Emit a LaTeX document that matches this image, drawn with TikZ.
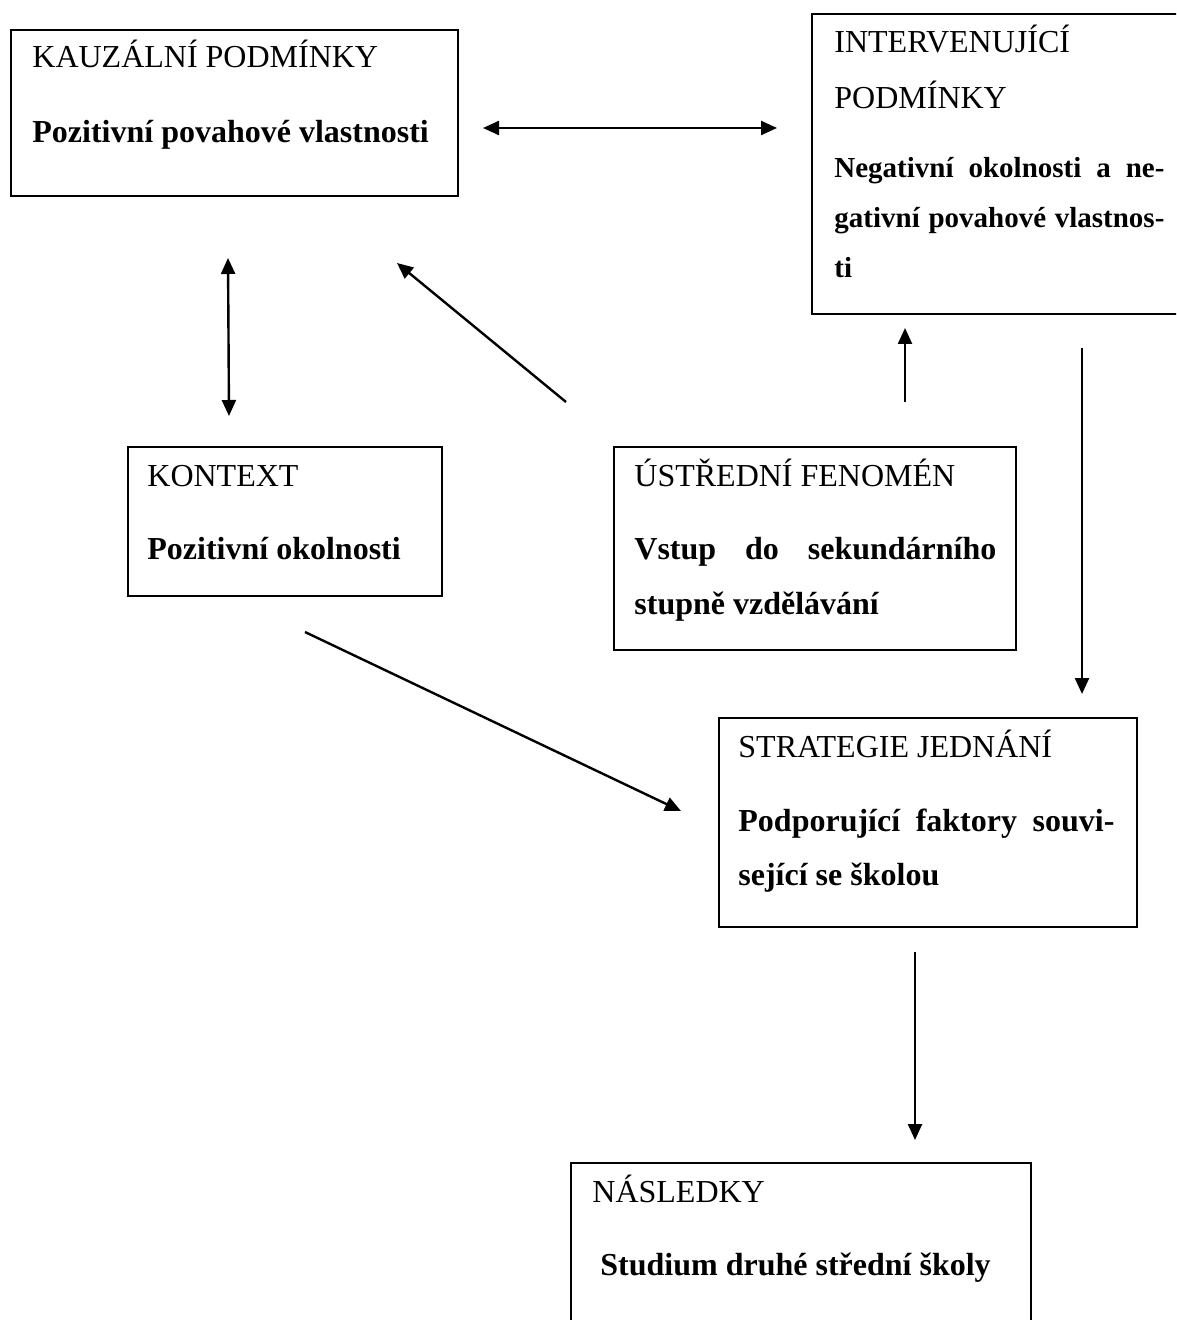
\documentclass[tikz,border=0pt]{standalone}
\usepackage{fontspec}
\setmainfont{Liberation Serif}
\usetikzlibrary{arrows.meta}
\tikzset{
  box/.style={draw, line width=1.2pt, anchor=north west, inner sep=0pt},
  lbl/.style={anchor=base west, inner sep=0pt, font=\fontsize{16}{19}\selectfont},
  blbl/.style={anchor=base west, inner sep=0pt, font=\fontsize{16}{19}\selectfont\bfseries},
  sblbl/.style={anchor=base west, inner sep=0pt, font=\fontsize{14.5}{17}\selectfont\bfseries},
  arr/.style={line width=1.2pt, -{Triangle[length=8pt,width=7pt]}},
  darr/.style={line width=1.2pt, {Triangle[length=8pt,width=7pt]}-{Triangle[length=8pt,width=7pt]}}
}
\begin{document}
\begin{tikzpicture}[x=0.5pt,y=-0.5pt]
\useasboundingbox (0,0) rectangle (1176,1320);
\clip (0,0) rectangle (1176,1320);
% boxes
\node[box, minimum width=223.5pt, minimum height=83pt] (kauz) at (10,29) {};
\node[box, minimum width=189.5pt, minimum height=150pt] (interv) at (811,13) {};
\node[box, minimum width=157pt, minimum height=74.5pt] (kontext) at (127,446) {};
\node[box, minimum width=201pt, minimum height=101.5pt] (fenomen) at (613,446) {};
\node[box, minimum width=209pt, minimum height=104.5pt] (strat) at (718,717) {};
\node[box, minimum width=230pt, minimum height=89pt] (nasl) at (570,1162) {};
% texts
\node[lbl] (t1a) at (32,68) {KAUZÁLNÍ PODMÍNKY};
\node[blbl] (t1b) at (32,143) {Pozitivní povahové vlastnosti};
\node[lbl] (t2a) at (834,53) {INTERVENUJÍCÍ};
\node[lbl] (t2b) at (834,109) {PODMÍNKY};
\node[sblbl] (t2c) at (834,178) {\makebox[165pt][s]{Negativní okolnosti a ne-}};
\node[sblbl] (t2d) at (834,228) {\makebox[165pt][s]{gativní povahové vlastnos-}};
\node[sblbl] (t2e) at (834,278) {ti};
\node[lbl] (t3a) at (147,486) {KONTEXT};
\node[blbl] (t3b) at (147,559) {Pozitivní okolnosti};
\node[lbl] (t4a) at (634,486) {ÚSTŘEDNÍ FENOMÉN};
\node[blbl] (t4b) at (634,559) {\makebox[181pt][s]{Vstup do sekundárního}};
\node[blbl] (t4c) at (634,614) {stupně vzdělávání};
\node[lbl] (t5a) at (738,757) {STRATEGIE JEDNÁNÍ};
\node[blbl] (t5b) at (738,831) {\makebox[188pt][s]{Podporující faktory souvi-}};
\node[blbl] (t5c) at (738,885) {sející se školou};
\node[lbl] (t6a) at (592,1202) {NÁSLEDKY};
\node[blbl] (t6b) at (600,1275) {Studium druhé střední školy};
% connector ends
\coordinate (h1) at (483,128);
\coordinate (h2) at (777,128);
\coordinate (v1) at (228,258);
\coordinate (v2) at (229,416);
\coordinate (dA) at (566,402);
\coordinate (dB) at (397,263);
\coordinate (uA) at (905,402);
\coordinate (uB) at (905,328);
\coordinate (rA) at (1082,348);
\coordinate (rB) at (1082,694);
\coordinate (kA) at (305,632);
\coordinate (kB) at (681,811);
\coordinate (sA) at (915,952);
\coordinate (sB) at (915,1140);
% connectors
\draw[darr] (h1) -- (h2);
\draw[darr] (v1) -- (v2);
\draw[arr] (dA) -- (dB);
\draw[arr] (uA) -- (uB);
\draw[arr] (rA) -- (rB);
\draw[arr] (kA) -- (kB);
\draw[arr] (sA) -- (sB);
\end{tikzpicture}
\end{document}
